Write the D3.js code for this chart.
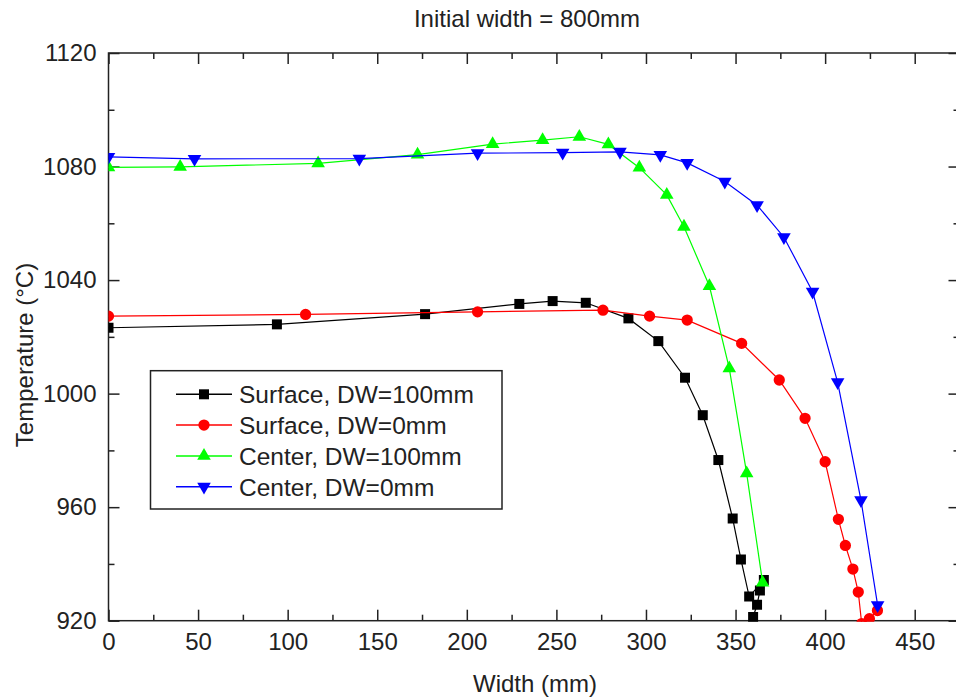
<!DOCTYPE html>
<html>
<head>
<meta charset="utf-8">
<script src="https://cdn.jsdelivr.net/npm/d3@7"></script>
<style>
    body { margin: 0; background: #fff; }
    text { font-family: "Liberation Sans", Arial, sans-serif; fill: #222; }
</style>
</head>
<body>
<div id="chart"></div>
<script>

// data: [width (mm), temperature (C)]
const surfaceDW100 = [[0,1023.2],[94,1024.4],[176.7,1028],[229.3,1031.6],[247.9,1032.6],[266.4,1032],
    [290.2,1026.5],[306.9,1018.5],[321.8,1005.6],[331.7,992.4],[340.4,976.6],[348.4,956],[353,941.6],
    [357.6,928.5],[365.8,934.3],[363.6,930.6],[362,925.6],[359.8,921.3]];
const surfaceDW0 = [[0,1027.3],[110,1027.9],[206,1028.8],[276,1029.4],[302,1027.3],[323,1025.9],
    [353.4,1017.7],[374.4,1004.8],[388.8,991.3],[400,976],[407.4,955.7],[411.3,946.5],[415.5,938.2],
    [418.5,930.1],[420.4,919],[424.7,920.7],[429.2,923.6]];
const centerDW100 = [[0,1079.7],[40,1079.9],[117,1081.1],[172.5,1084.2],[214.4,1087.9],[242.3,1089.3],
    [262.8,1090.5],[279,1087.8],[296.3,1079.6],[311.6,1070],[321.2,1058.8],[335.4,1037.9],[346.5,1008.9],
    [356.2,971.9],[365.1,933.4]];
const centerDW0 = [[0,1083.4],[48,1082.7],[140,1082.8],[206,1084.7],[253.5,1084.9],[285.5,1085.2],
    [308,1084.1],[323,1081.3],[344,1074.7],[362,1066.4],[377,1055.1],[393,1035.9],[407,1004],
    [420,962.5],[429.3,925.5]];

const seriesNames = ["Surface, DW=100mm", "Surface, DW=0mm", "Center, DW=100mm", "Center, DW=0mm"];
const xTicks = [0, 50, 100, 150, 200, 250, 300, 350, 400, 450];
const yTicks = [920, 960, 1000, 1040, 1080, 1120];
const xMinor = [25, 75, 125, 175, 225, 275, 325, 375, 425, 475];
const yMinor = [940, 980, 1020, 1060, 1100];

const series = [
    {name: seriesNames[0], values: surfaceDW100, color: "#000000", shape: "square"},
    {name: seriesNames[1], values: surfaceDW0, color: "#ff0000", shape: "circle"},
    {name: seriesNames[2], values: centerDW100, color: "#00ff00", shape: "up"},
    {name: seriesNames[3], values: centerDW0, color: "#0000ff", shape: "down"}
];

let margin = {top: 53, right: -3.5, bottom: 78.3, left: 108.5};
let totalW = 956, totalH = 699;
let width = totalW - margin.left - margin.right;
let height = totalH - margin.top - margin.bottom;

let svg = d3.select("#chart").append("svg")
    .attr("width", totalW)
    .attr("height", totalH)
    .style("display", "block");

let g = svg.append("g")
    .attr("transform", "translate(" + margin.left + "," + margin.top + ")");

let x = d3.scaleLinear().domain([0, 475]).range([0, width]);
let y = d3.scaleLinear().domain([920, 1120]).range([height, 0]);
let fmt = d3.format("d");

// clip everything to the plot frame
g.append("clipPath").attr("id", "plot-clip")
    .append("rect").attr("x", 0).attr("y", 0).attr("width", width).attr("height", height + 1);

// axes, ticks pointing inward on all four sides
function styleAxis(sel) {
    sel.select(".domain").remove();
    sel.selectAll("line").attr("stroke", "#222").attr("stroke-width", 1.5);
    sel.selectAll("text").attr("font-size", 24).style("fill", "#222")
        .attr("font-family", "Liberation Sans, Arial, sans-serif");
}

g.append("g").attr("transform", "translate(0," + height + ")")
    .call(d3.axisBottom(x).tickValues(xTicks).tickFormat(fmt).tickSize(-11).tickPadding(12).tickSizeOuter(0))
    .call(styleAxis)
    .selectAll("text").attr("dy", "0.73em");
g.append("g").attr("transform", "translate(0," + height + ")")
    .call(d3.axisBottom(x).tickValues(xMinor).tickSize(-6).tickFormat("").tickSizeOuter(0))
    .call(styleAxis);

g.append("g")
    .call(d3.axisTop(x).tickValues(xTicks).tickSize(-11).tickFormat("").tickSizeOuter(0))
    .call(styleAxis);
g.append("g")
    .call(d3.axisTop(x).tickValues(xMinor).tickSize(-6).tickFormat("").tickSizeOuter(0))
    .call(styleAxis);

g.append("g")
    .call(d3.axisLeft(y).tickValues(yTicks).tickFormat(fmt).tickSize(-11).tickPadding(12).tickSizeOuter(0))
    .call(styleAxis);
g.append("g")
    .call(d3.axisLeft(y).tickValues(yMinor).tickSize(-6).tickFormat("").tickSizeOuter(0))
    .call(styleAxis);

g.append("g").attr("transform", "translate(" + width + ",0)")
    .call(d3.axisRight(y).tickValues(yTicks).tickSize(-11).tickFormat("").tickSizeOuter(0))
    .call(styleAxis);
g.append("g").attr("transform", "translate(" + width + ",0)")
    .call(d3.axisRight(y).tickValues(yMinor).tickSize(-6).tickFormat("").tickSizeOuter(0))
    .call(styleAxis);

// frame
g.append("rect")
    .attr("width", width).attr("height", height)
    .attr("fill", "none").attr("stroke", "#222").attr("stroke-width", 1.5);

// symbols
function symbolPath(shape) {
    if (shape === "square") return d3.symbol().type(d3.symbolSquare).size(100)();
    if (shape === "circle") return d3.symbol().type(d3.symbolCircle).size(100)();
    return d3.symbol().type(d3.symbolTriangle).size(80)();
}
function symbolTransform(shape, px, py) {
    return "translate(" + px + "," + py + ")" + (shape === "down" ? " rotate(180)" : "");
}

let line = d3.line().x(d => x(d[0])).y(d => y(d[1]));

let plot = g.append("g").attr("clip-path", "url(#plot-clip)");

series.forEach(s => {
    plot.append("path")
        .datum(s.values)
        .attr("fill", "none")
        .attr("stroke", s.color)
        .attr("stroke-width", 1.2)
        .attr("d", line);

    plot.selectAll(null)
        .data(s.values)
        .enter()
        .append("path")
        .attr("d", symbolPath(s.shape))
        .attr("transform", d => symbolTransform(s.shape, x(d[0]), y(d[1])))
        .attr("fill", s.color);
});

// legend
let legend = svg.append("g");
legend.append("rect")
    .attr("x", 150.5).attr("y", 370.7)
    .attr("width", 351.5).attr("height", 138.3)
    .attr("fill", "#fff").attr("stroke", "#222").attr("stroke-width", 1.5);

series.forEach((s, i) => {
    let cy = 394.3 + i * 30.8;
    legend.append("line")
        .attr("x1", 176).attr("x2", 232)
        .attr("y1", cy).attr("y2", cy)
        .attr("stroke", s.color).attr("stroke-width", 1.5);
    legend.append("path")
        .attr("d", symbolPath(s.shape))
        .attr("transform", symbolTransform(s.shape, 204, cy))
        .attr("fill", s.color);
    legend.append("text")
        .attr("x", 239).attr("y", cy)
        .attr("dy", "0.36em")
        .attr("font-size", 24.5)
        .text(s.name);
});

// title and axis labels
svg.append("text")
    .attr("x", 527).attr("y", 27)
    .attr("text-anchor", "middle")
    .attr("font-size", 24)
    .text("Initial width = 800mm");

svg.append("text")
    .attr("x", 535).attr("y", 692)
    .attr("text-anchor", "middle")
    .attr("font-size", 24)
    .text("Width (mm)");

svg.append("text")
    .attr("transform", "translate(33,355) rotate(-90)")
    .attr("text-anchor", "middle")
    .attr("font-size", 24)
    .text("Temperature (°C)");

</script>
</body>
</html>
